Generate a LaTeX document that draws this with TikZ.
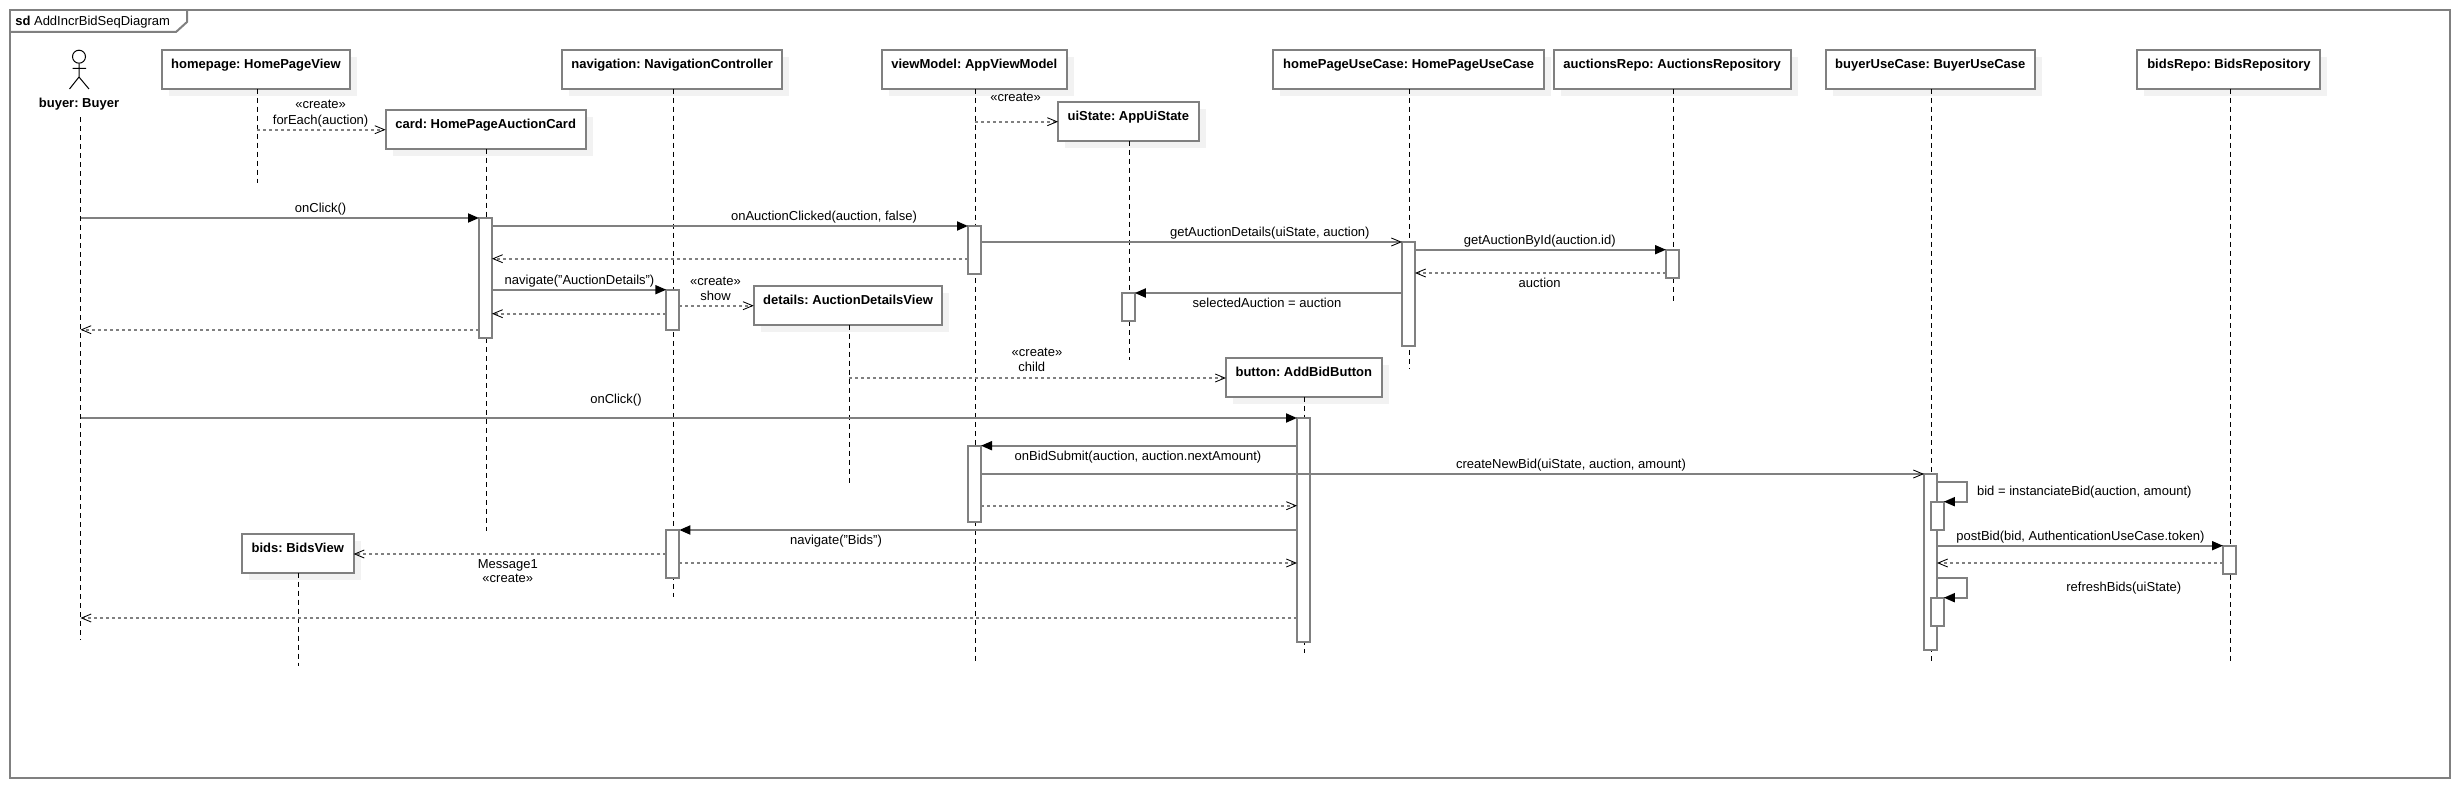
\documentclass[tikz,border=0pt]{standalone}
\usepackage{fontspec}
\setmainfont{Liberation Sans}
\usepackage{xcolor}
\usetikzlibrary{arrows.meta,shadows}
\definecolor{umlgray}{HTML}{808080}
\definecolor{umlshadow}{HTML}{F2F2F2}
\newcommand{\lblfont}{\fontsize{9.25}{11}\selectfont\frenchspacing}
\def\px{0.025cm}

\begin{document}
\begin{tikzpicture}[
    x=0.025cm, y=-0.025cm,
    headbox/.style={draw=umlgray, fill=white, line width=0.05cm, inner sep=0pt, outer sep=0pt,
        minimum height=39*\px, text height=0.4625cm, text depth=0.5125cm,
        font=\lblfont\bfseries,
        general shadow={fill=umlshadow, shadow xshift=0.175cm, shadow yshift=-0.175cm}},
    actbar/.style={draw=umlgray, fill=white, line width=0.05cm, inner sep=0pt, outer sep=0pt, minimum width=13*\px},
    lifeline/.style={black, line width=0.025cm, dash pattern=on 0.125cm off 0.1cm},
    msglabel/.style={font=\lblfont, inner sep=0pt, text height=0.235cm, text depth=0.0675cm},
    syncmsg/.style={draw=umlgray, line width=0.045cm, -{Triangle[length=0.275cm,width=0.225cm,black]}},
    openmsg/.style={draw=umlgray, line width=0.045cm, -{Straight Barb[length=0.24cm,width=0.2cm,black,line width=0.6pt]}},
    replymsg/.style={draw=umlgray, line width=0.045cm, dash pattern=on 0.075cm off 0.075cm,
        -{Straight Barb[length=0.24cm,width=0.2cm,black,line width=0.6pt]}},
    umlframe/.style={draw=umlgray, line width=0.05cm}
]
    \useasboundingbox (0,0) rectangle (2460,788);

    % frame and its tab
    \draw[umlframe] (10,10) rectangle (2450,778);
    \draw[umlframe] (10,32) -- (176,32) -- (187,22) -- (187,10);
    \node[msglabel, anchor=west] (framelabel) at (15,21.7) {\textbf{sd}\ AddIncrBidSeqDiagram};

    % actor
    \node[draw, circle, black, line width=0.025cm, inner sep=0pt, minimum size=13*\px] (actorhead) at (79,56.7) {};
    \draw[black, line width=0.025cm] (actorhead.south) -- (79,77) -- (69.5,89) (79,77) -- (89,89) (72.5,68.3) -- (86,68.3);
    \node[font=\lblfont\bfseries, inner sep=0pt, text height=0.235cm, text depth=0.0675cm] (buyer) at (79,104) {buyer: Buyer};
    \coordinate (buyerend) at (80.5,640);
    \draw[lifeline] (buyer.south -| buyerend) ++(0,7) -- (buyerend);

    % lifelines: name/left/right/top/line x/line end/text
    \foreach \name/\lft/\rgt/\ytop/\lx/\ly/\txt in {
        home/161.6/350.4/49.7/257/183/homepage: HomePageView,
        nav/562/782.4/49.7/673.6/597/navigation: NavigationController,
        card/385.5/585.8/109.7/486.4/530.7/card: HomePageAuctionCard,
        details/753.7/942.4/285.7/849.3/484.7/details: AuctionDetailsView,
        vm/881.7/1066.9/49.7/975.3/662.7/viewModel: AppViewModel,
        uistate/1058/1198.7/101.7/1129.6/360/uiState: AppUiState,
        hpuc/1273.4/1543.8/49.7/1409.4/368/homePageUseCase: HomePageUseCase,
        repo/1553.8/1790.6/49.7/1673.5/302.7/auctionsRepo: AuctionsRepository,
        buc/1825.7/2034.9/49.7/1931.3/662.7/buyerUseCase: BuyerUseCase,
        bidsrepo/2137.4/2320.4/49.7/2230.5/662.7/bidsRepo: BidsRepository,
        button/1225.9/1381.7/357.7/1304.3/652.7/button: AddBidButton,
        bids/242/353.6/533.7/298.6/665.7/bids: BidsView}
    {
        \node[headbox, minimum width={(\rgt-\lft)*\px}] (\name) at ({(\lft+\rgt)/2},{\ytop+19.5}) {\txt};
        \coordinate (\name end) at (\lx,\ly);
        \draw[lifeline] (\name.south -| \name end) -- (\name end);
    }

    % activation bars: name/left/top/bottom
    \foreach \name/\lft/\ytop/\ybot in {
        barcard/479/218/337.7, barnavA/666.3/289.7/329.7, barvmA/968/226/274,
        barui/1121.8/293/321, barhpuc/1402/242/346, barrepo/1666/249.7/277.7,
        barbutton/1297/417.7/642, barvmB/968/445.7/521.7, barnavB/666.3/529.7/578,
        barbuc/1924/474/650, barselfA/1930.8/501.7/530, barselfB/1930.8/597.7/626,
        barbids/2223/545.7/574}
        \node[actbar, minimum height={(\ybot-\ytop)*\px}] (\name) at ({\lft+6.5},{(\ytop+\ybot)/2}) {};

    % calls
    \foreach \a/\b/\y in {
        buyerend/barcard.west/218, barcard.east/barvmA.west/226, barhpuc.east/barrepo.west/249.7,
        barhpuc.west/barui.east/293, barcard.east/barnavA.west/289.7,
        buyerend/barbutton.west/418, barbutton.west/barvmB.east/445.7,
        barbutton.west/barnavB.east/530, barbuc.east/barbids.west/545.7}
        \draw[syncmsg] (\a |- 0,\y) -- (\b |- 0,\y);
    \foreach \a/\b/\y in {barvmA.east/barhpuc.west/242, barvmB.east/barbuc.west/474}
        \draw[openmsg] (\a |- 0,\y) -- (\b |- 0,\y);

    % replies and creations
    \foreach \a/\b/\y in {
        homeend/card.west/129.7, vmend/uistate.west/121.7, barvmA.west/barcard.east/258.7,
        barrepo.west/barhpuc.east/273, barnavA.east/details.west/305.7,
        barnavA.west/barcard.east/313.7, barcard.west/buyerend/329.7, detailsend/button.west/378,
        barvmB.east/barbutton.west/505.7, barnavB.west/bids.east/554, barnavB.east/barbutton.west/563,
        barbutton.west/buyerend/618, barbids.west/barbuc.east/563}
        \draw[replymsg] (\a |- 0,\y) -- (\b |- 0,\y);

    % self calls
    \draw[syncmsg] (barbuc.east |- 0,481.7) -- ++(30,0) |- (barselfA.north east);
    \draw[syncmsg] (barbuc.east |- 0,577.7) -- ++(30,0) |- (barselfB.north east);

    % message labels
    \foreach \name/\x/\y/\txt in {
        lblcreateA/320.6/105/«create», lblforeach/320.6/120.7/forEach(auction),
        lblclickA/320.6/209/onClick(), lblclicked/824/216.7/{onAuctionClicked(auction, false)},
        lblcreateB/1015.6/97.7/«create», lbldetails/1269.8/232.7/{getAuctionDetails(uiState, auction)},
        lblbyid/1539.7/240.7/getAuctionById(auction.id), lblauction/1539.7/283.7/auction,
        lblselected/1267/303.7/selectedAuction = auction, lblnavA/579.5/281/navigate("AuctionDetails"),
        lblcreateC/715.5/281.7/«create», lblshow/715.5/296.7/show,
        lblcreateD/1037/353.3/«create», lblchild/1031.8/367.7/child,
        lblclickB/616/400/onClick(), lblsubmit/1138/456.7/{onBidSubmit(auction, auction.nextAmount)},
        lblnewbid/1571/464.7/{createNewBid(uiState, auction, amount)}, lblnavB/836/540.7/navigate("Bids"),
        lblmessage/507.8/565/Message1, lblcreateE/507.8/579.3/«create»,
        lblpost/2080.4/536.7/{postBid(bid, AuthenticationUseCase.token)}, lblrefresh/2123.8/587.7/refreshBids(uiState)}
        \node[msglabel] (\name) at (\x,\y) {\txt};
    \node[msglabel, anchor=west] (lblinstance) at (1976.8,491.7) {bid = instanciateBid(auction, amount)};
\end{tikzpicture}
\end{document}
